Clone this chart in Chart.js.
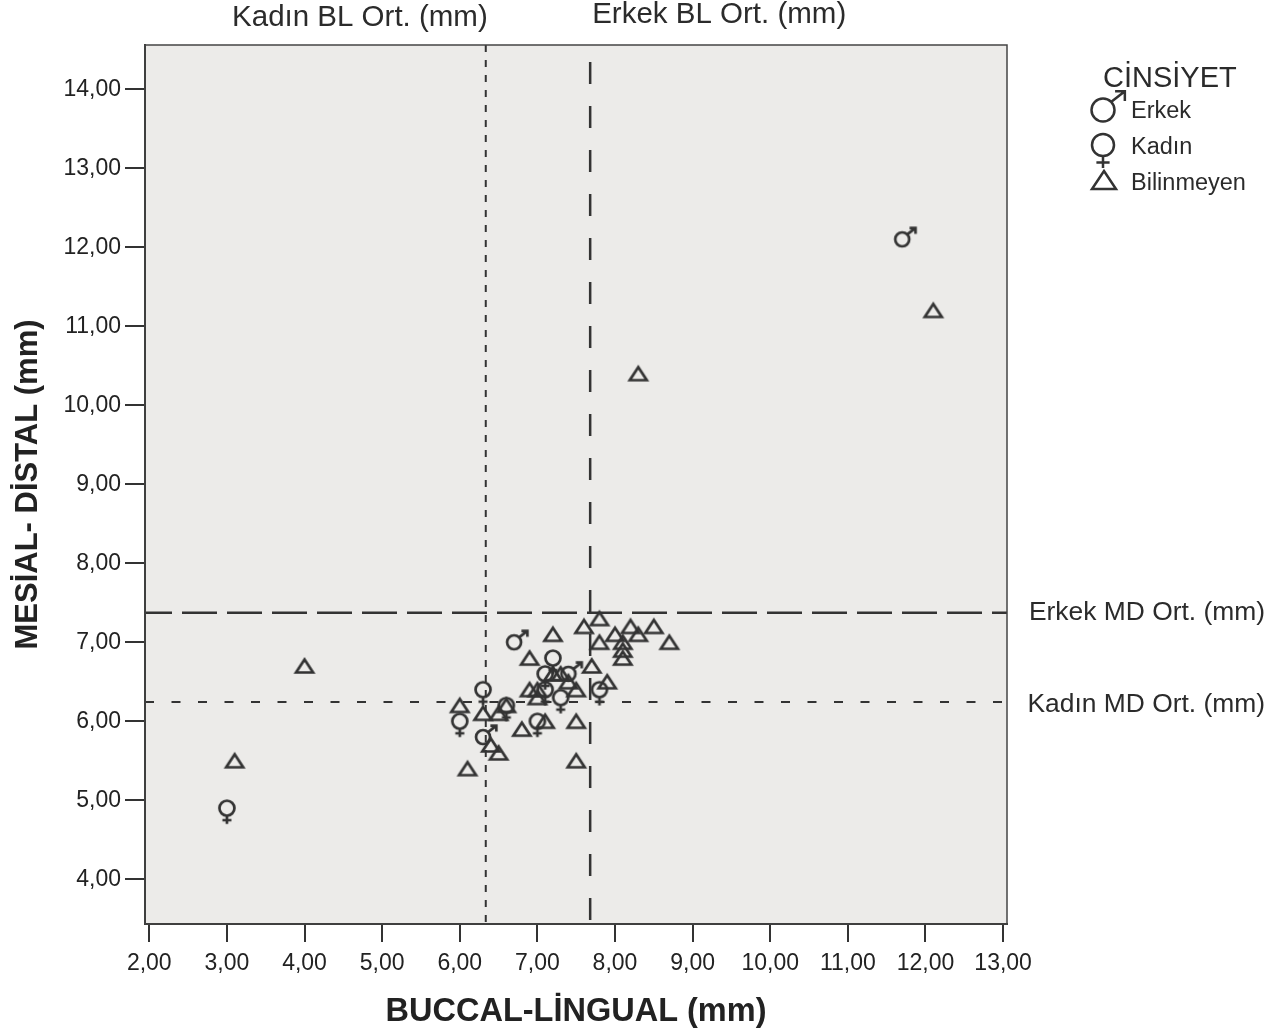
<!DOCTYPE html>
<html>
<head>
<meta charset="utf-8">
<script src="https://cdn.jsdelivr.net/npm/chart.js@4.4.1/dist/chart.umd.min.js"></script>
<style>
  body { margin: 0; background: #fff; }
  canvas { display: block; }
</style>
</head>
<body>
<canvas id="scatter" width="1273" height="1032"></canvas>
<script>
// values (BL = x, MD = y)
const erkekX = [11.7, 6.7, 7.4, 6.3];
const erkekY = [12.1, 7.0, 6.6, 5.8];

const kadinX = [3.0, 7.2, 7.1, 7.1, 7.3, 6.3, 6.6, 6.0, 7.0, 7.8];
const kadinY = [4.9, 6.8, 6.6, 6.4, 6.3, 6.4, 6.2, 6.0, 6.0, 6.4];

const bilinmeyenX = [12.1, 8.3, 4.0, 3.1, 7.2, 7.6, 7.8, 8.2, 8.5, 8.0, 8.3, 7.8, 8.1, 8.1, 8.1, 8.7,
  7.7, 7.9, 6.9, 7.2, 7.3, 7.4, 7.5, 6.9, 7.0, 7.0, 6.0, 6.3, 6.5, 6.6, 6.4, 6.5, 6.1, 6.8, 7.1, 7.5, 7.5];
const bilinmeyenY = [11.2, 10.4, 6.7, 5.5, 7.1, 7.2, 7.3, 7.2, 7.2, 7.1, 7.1, 7.0, 7.0, 6.9, 6.8, 7.0,
  6.7, 6.5, 6.8, 6.6, 6.6, 6.5, 6.4, 6.4, 6.4, 6.3, 6.2, 6.1, 6.1, 6.2, 5.7, 5.6, 5.4, 5.9, 6.0, 6.0, 5.5];

// mean reference lines
const kadinBL = 6.335;
const erkekBL = 7.68;
const erkekMD = 7.375;
const kadinMD = 6.244;

const xTicks = [2, 3, 4, 5, 6, 7, 8, 9, 10, 11, 12, 13];
const yTicks = [4, 5, 6, 7, 8, 9, 10, 11, 12, 13, 14];

const ink = '#333333';
const fontName = '"Liberation Sans", Arial, sans-serif';

function drawMale(ctx, cx, cy, r, lw) {
  ctx.save();
  ctx.strokeStyle = ink;
  ctx.lineWidth = lw;
  ctx.beginPath();
  ctx.arc(cx, cy, r, 0, Math.PI * 2);
  ctx.stroke();
  const t = r * 0.9;
  const tipX = cx + r + t, tipY = cy - r - t * 0.7;
  ctx.beginPath();
  ctx.moveTo(cx + r * 0.7, cy - r * 0.7);
  ctx.lineTo(tipX, tipY);
  ctx.moveTo(tipX - r * 0.85, tipY);
  ctx.lineTo(tipX, tipY);
  ctx.lineTo(tipX, tipY + r * 0.85);
  ctx.stroke();
  ctx.restore();
}

function drawFemale(ctx, cx, cy, r, lw) {
  ctx.save();
  ctx.strokeStyle = ink;
  ctx.lineWidth = lw;
  ctx.beginPath();
  ctx.arc(cx, cy, r, 0, Math.PI * 2);
  ctx.stroke();
  ctx.beginPath();
  ctx.moveTo(cx, cy + r);
  ctx.lineTo(cx, cy + r * 2.1);
  ctx.moveTo(cx - r * 0.6, cy + r * 1.6);
  ctx.lineTo(cx + r * 0.6, cy + r * 1.6);
  ctx.stroke();
  ctx.restore();
}

function drawTriangle(ctx, cx, cy, w, h, lw) {
  ctx.save();
  ctx.strokeStyle = ink;
  ctx.lineWidth = lw;
  ctx.lineJoin = 'miter';
  ctx.beginPath();
  ctx.moveTo(cx, cy - h / 2);
  ctx.lineTo(cx + w / 2, cy + h / 2);
  ctx.lineTo(cx - w / 2, cy + h / 2);
  ctx.closePath();
  ctx.stroke();
  ctx.restore();
}

function makeIcon(w, h, fn) {
  const c = document.createElement('canvas');
  c.width = w;
  c.height = h;
  fn(c.getContext('2d'), w / 2, h / 2);
  return c;
}

const maleIcon = makeIcon(36, 36, (ctx, cx, cy) => drawMale(ctx, cx, cy, 7, 2.7));
const femaleIcon = makeIcon(30, 48, (ctx, cx, cy) => drawFemale(ctx, cx, cy, 7.5, 2.7));
const triIcon = makeIcon(28, 26, (ctx, cx, cy) => drawTriangle(ctx, cx, cy, 17, 13, 2.7));

function pts(xs, ys) {
  return xs.map((x, i) => ({x: x, y: ys[i]}));
}

const fmt = v => Number(v).toFixed(2).replace('.', ',');

const decorations = {
  id: 'decorations',
  beforeDraw(chart) {
    const {ctx, chartArea: a} = chart;
    ctx.save();
    ctx.fillStyle = '#ecebe9';
    ctx.fillRect(a.left, a.top, a.right - a.left, a.bottom - a.top);
    ctx.restore();
  },
  beforeDatasetsDraw(chart) {
    const {ctx, chartArea: a, scales: {x, y}} = chart;
    ctx.save();
    ctx.strokeStyle = ink;

    // Kadın BL (dotted vertical)
    ctx.lineWidth = 2;
    ctx.setLineDash([7, 8]);
    let px = x.getPixelForValue(kadinBL);
    ctx.beginPath(); ctx.moveTo(px, a.top); ctx.lineTo(px, a.bottom); ctx.stroke();

    // Kadın MD (dotted horizontal)
    ctx.setLineDash([9, 17.5]);
    let py = y.getPixelForValue(kadinMD);
    ctx.beginPath(); ctx.moveTo(a.left, py); ctx.lineTo(a.right, py); ctx.stroke();

    // Erkek BL (long dash vertical)
    ctx.lineWidth = 2.5;
    ctx.setLineDash([22, 22]);
    px = x.getPixelForValue(erkekBL);
    ctx.beginPath(); ctx.moveTo(px, a.top + 17); ctx.lineTo(px, a.bottom); ctx.stroke();

    // Erkek MD (long dash horizontal)
    ctx.setLineDash([35, 10]);
    ctx.lineDashOffset = 8;
    py = y.getPixelForValue(erkekMD);
    ctx.beginPath(); ctx.moveTo(a.left, py); ctx.lineTo(a.right, py); ctx.stroke();
    ctx.restore();
  },
  afterDraw(chart) {
    const {ctx, chartArea: a, scales: {x, y}} = chart;
    ctx.save();
    // frame
    ctx.strokeStyle = '#444';
    ctx.lineWidth = 1.5;
    ctx.strokeRect(a.left, a.top, a.right - a.left, a.bottom - a.top);

    // line labels
    ctx.fillStyle = '#2b2b2b';
    ctx.textBaseline = 'middle';
    ctx.font = '29.5px ' + fontName;
    ctx.textAlign = 'right';
    ctx.fillText('Kadın BL Ort. (mm)', x.getPixelForValue(kadinBL) + 2, 18);
    ctx.textAlign = 'left';
    ctx.fillText('Erkek BL Ort. (mm)', x.getPixelForValue(erkekBL) + 2, 15);
    ctx.font = '26.4px ' + fontName;
    ctx.textAlign = 'right';
    ctx.fillText('Erkek MD Ort. (mm)', 1265, y.getPixelForValue(erkekMD));
    ctx.fillText('Kadın MD Ort. (mm)', 1265, y.getPixelForValue(kadinMD) + 3);

    // legend
    ctx.textAlign = 'left';
    ctx.font = '29px ' + fontName;
    ctx.fillText('CİNSİYET', 1103, 79);
    ctx.font = '23.5px ' + fontName;
    drawMale(ctx, 1103, 110, 11.5, 2.5);
    ctx.fillText('Erkek', 1131, 112);
    drawFemale(ctx, 1103, 145, 11, 2.5);
    ctx.fillText('Kadın', 1131, 148);
    drawTriangle(ctx, 1104, 180, 24, 18, 2.5);
    ctx.fillText('Bilinmeyen', 1131, 184);
    ctx.restore();
  }
};

new Chart(document.getElementById('scatter'), {
  type: 'scatter',
  data: {
    datasets: [
      {label: 'Erkek', data: pts(erkekX, erkekY), pointStyle: maleIcon, pointRadius: 7},
      {label: 'Kadın', data: pts(kadinX, kadinY), pointStyle: femaleIcon, pointRadius: 7},
      {label: 'Bilinmeyen', data: pts(bilinmeyenX, bilinmeyenY), pointStyle: triIcon, pointRadius: 7}
    ]
  },
  options: {
    responsive: false,
    animation: false,
    devicePixelRatio: 1,
    layout: {padding: {left: 0, top: 45, right: 266, bottom: 0}},
    plugins: {legend: {display: false}, tooltip: {enabled: false}},
    scales: {
      x: {
        type: 'linear',
        min: 1.945,
        max: 13.05,
        afterFit: s => { s.height = 108; },
        afterBuildTicks: s => { s.ticks = xTicks.map(v => ({value: v})); },
        grid: {drawOnChartArea: false, tickLength: 18, color: ink, lineWidth: 2},
        border: {color: ink, width: 2},
        ticks: {callback: fmt, color: '#222', padding: 8, maxRotation: 0, font: {family: fontName, size: 23}},
        title: {display: true, text: 'BUCCAL-LİNGUAL (mm)', color: '#222',
          padding: {top: 0, bottom: 0}, font: {family: fontName, size: 32.5, weight: 'bold'}}
      },
      y: {
        type: 'linear',
        min: 3.434,
        max: 14.56,
        afterFit: s => { s.width = 145; },
        afterBuildTicks: s => { s.ticks = yTicks.map(v => ({value: v})); },
        grid: {drawOnChartArea: false, tickLength: 20, color: ink, lineWidth: 2},
        border: {color: ink, width: 2},
        ticks: {callback: fmt, color: '#222', padding: 4, font: {family: fontName, size: 23}},
        title: {display: true, text: 'MESİAL- DİSTAL (mm)', color: '#222',
          padding: {top: 10, bottom: 0}, font: {family: fontName, size: 31, weight: 'bold'}}
      }
    }
  },
  plugins: [decorations]
});
</script>
</body>
</html>
